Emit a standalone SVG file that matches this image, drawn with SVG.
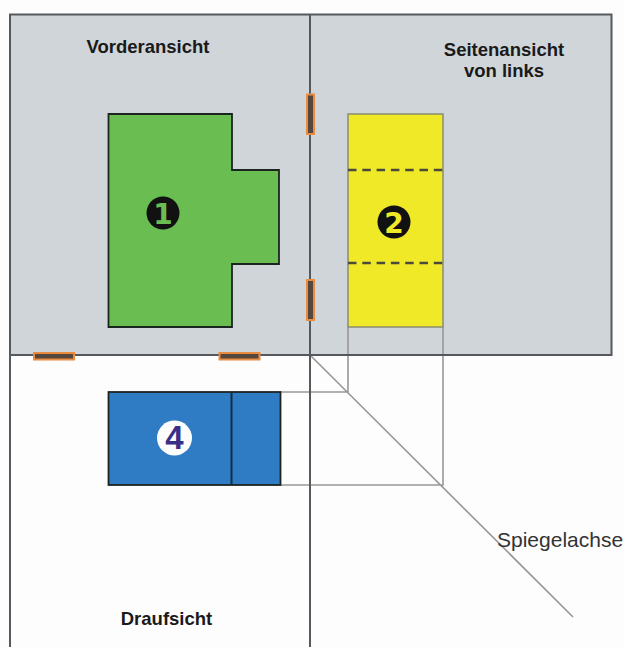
<svg xmlns="http://www.w3.org/2000/svg" width="624" height="647" viewBox="0 0 624 647">
<style>
.frame{fill:none;stroke:#55595f;stroke-width:2}
.thin{fill:none;stroke:#9a9696;stroke-width:1.6}
.shape{stroke:#1c2420;stroke-width:1.8}
.hinge{fill:#55463e;stroke:#e98c40;stroke-width:2}
.lbl{font-family:"Liberation Sans",Arial,sans-serif;font-weight:700;font-size:18.500px;fill:#1a1a1a;text-anchor:middle}
.num{font-family:"DejaVu Sans",sans-serif;font-weight:700;font-size:28px;text-anchor:middle}
</style>
<rect width="624" height="647" fill="#fdfdfd"/>
<rect x="10" y="14.500" width="601.500" height="340.500" fill="#d0d5d9"/>
<g id="connectors">
<path class="thin" d="M348 327V392H281M443 327V485H281M310 355L573 617"/>
<path class="frame" d="M10 647V14.500H611.500V355H10M310 14.500V647"/>
</g>
<g id="hinges">
<rect class="hinge" x="34" y="353" width="40" height="6.500"/>
<rect class="hinge" x="219.500" y="353" width="40" height="6.500"/>
<rect class="hinge" x="307" y="94.500" width="7" height="39.500"/>
<rect class="hinge" x="307" y="280" width="7" height="40"/>
</g>
<g id="vorderansicht">
<path class="shape" fill="#6abd50" d="M108.500 114H232V170H279V264H232V327H108.500Z"/>
<circle cx="163" cy="213" r="16.500" fill="#111"/>
<text class="num" x="163" y="223.500" fill="#6abd50">1</text>
<text class="lbl" x="148" y="53">Vorderansicht</text>
</g>
<g id="seitenansicht">
<rect x="348" y="114" width="95" height="213" fill="#efe928" stroke="#8c8c70" stroke-width="1.500"/>
<path d="M348 170H443M348 263H443" fill="none" stroke="#4a4a3a" stroke-width="2.500" stroke-dasharray="8.500 5.800"/>
<circle cx="394" cy="222" r="16.500" fill="#111"/>
<text class="num" x="394" y="232.500" fill="#efe928">2</text>
<text class="lbl" x="504" y="56">Seitenansicht</text>
<text class="lbl" x="504" y="77">von links</text>
</g>
<g id="draufsicht">
<rect class="shape" x="108.500" y="392" width="172" height="93" fill="#2f7cc4"/>
<path d="M231.500 392V485" stroke="#0f2b45" stroke-width="2"/>
<circle cx="174.500" cy="438" r="17.500" fill="#fdfdfd"/>
<text style="font-family:'Liberation Sans',Arial,sans-serif;font-weight:700;font-size:33px;text-anchor:middle" x="174.500" y="448.500" fill="#3a2f86">4</text>
<text class="lbl" x="166.500" y="625">Draufsicht</text>
</g>
<text id="spiegelachse" x="497" y="547" font-family="'Liberation Sans',Arial,sans-serif" font-size="21" fill="#333">Spiegelachse</text>
</svg>
